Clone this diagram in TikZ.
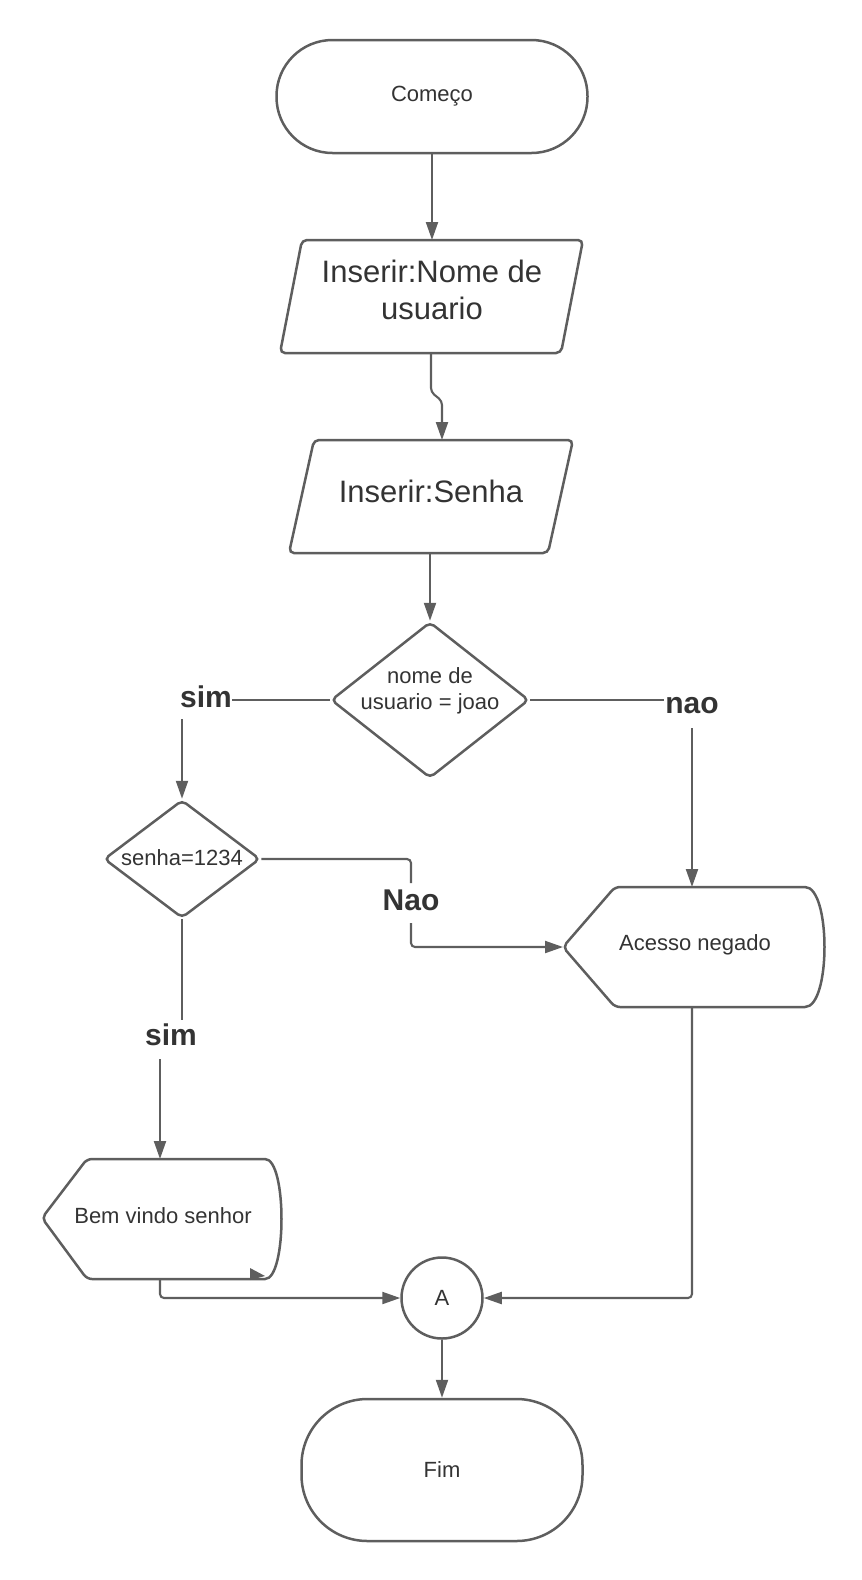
\documentclass[tikz,border=0pt]{standalone}
\usepackage{fontspec}
\setmainfont{Liberation Sans}
\usetikzlibrary{arrows.meta,shapes.geometric}
\definecolor{ln}{HTML}{5E5E5E}
\definecolor{tx}{HTML}{333333}
\begin{document}
\begin{tikzpicture}[x=1pt,y=-1pt,
  shp/.style={draw=ln, line width=2.5pt, rounded corners=5pt},
  con/.style={draw=ln, line width=2.1pt, rounded corners=4pt},
  arr/.style={con, -{Triangle[length=18pt,width=12pt]}},
  sm/.style={font=\fontsize{22}{26.4}\selectfont, text=tx, align=center, inner sep=0pt},
  big/.style={font=\fontsize{31}{37}\selectfont, text=tx, align=center, inner sep=0pt},
  lbl/.style={font=\fontsize{30}{36}\selectfont\bfseries, text=tx, inner sep=0pt}
]
\useasboundingbox (0,0) rectangle (862,1580);
% terminators
\node[shp, rounded corners=56pt, minimum width=311pt, minimum height=113pt, sm] (start) at (432,96.5) {Começo};
\node[shp, rounded corners=66pt, minimum width=281pt, minimum height=142pt, sm] (fim) at (442,1470) {Fim};
% parallelograms
\draw[shp] (302,240) -- (583,240) -- (561,353) -- (280,353) -- cycle;
\node[big] (in1) at (432,290) {Inserir:Nome de\\usuario};
\draw[shp] (314,440) -- (573,440) -- (548,553) -- (289,553) -- cycle;
\node[big] (in2) at (431,491) {Inserir:Senha};
% diamonds
\node[shp, diamond, minimum width=198pt, minimum height=156pt, inner sep=0pt] (d1) at (430,700) {};
\node[sm] (d1t) at (430,691) {nome de\\usuario = joao};
\node[shp, diamond, minimum width=156pt, minimum height=118pt, inner sep=0pt] (d2) at (182,859) {};
\node[sm] (d2t) at (182,858) {senha=1234};
% displays
\draw[shp] (563,947) -- (615,887) -- (800,887) .. controls (831,887) and (831,1007) .. (800,1007) -- (615,1007) -- cycle;
\node[sm] (acc) at (695,945) {Acesso negado};
\draw[shp] (42,1218) -- (87,1159) -- (260,1159) .. controls (287,1159) and (287,1279) .. (260,1279) -- (87,1279) -- cycle;
\node[sm] (bem) at (163,1216) {Bem vindo senhor};
\fill[ln] (250,1268) -- (265,1276) -- (250,1280) -- cycle;
% connector
\node[shp, circle, minimum size=81pt, inner sep=0pt, sm] (A) at (442,1298) {A};
% labels
\node[lbl] (sim1) at (206,697) {sim};
\node[lbl] (nao1) at (692,706) {nao};
\node[lbl] (nao2) at (411,900) {Nao};
\node[lbl] (sim2) at (171,1035) {sim};
% coordinates
\coordinate (p1top) at (432,240);
\coordinate (p1bot) at (431,353);
\coordinate (p2top) at (442,440);
\coordinate (p2bot) at (430,553);
\coordinate (s1b) at (182,719);
\coordinate (n1b) at (692,728);
\coordinate (acctop) at (692,887);
\coordinate (accl) at (563,947);
\coordinate (accbot) at (692,1007);
\coordinate (n2t) at (411,883);
\coordinate (n2b) at (411,923);
\coordinate (s2t) at (182,1020);
\coordinate (s2b) at (160,1059);
\coordinate (bemtop) at (160,1159);
\coordinate (bembot) at (160,1279);
% connectors
\draw[arr] (start.south) -- (start.south |- p1top);
\draw[arr] (p1bot) -- (431,392) -- (442,401) -- (p2top);
\draw[arr] (p2bot) -- (d1.north);
\draw[con] (d1.west) -- (d1.west -| sim1.east);
\draw[arr] (s1b) -- (d2.north);
\draw[con] (d1.east) -- (664,700);
\draw[arr] (n1b) -- (acctop);
\draw[con] (d2.east) -- (d2.east -| n2t) -- (n2t);
\draw[arr] (n2b) -- (n2b |- accl) -- (accl);
\draw[con] (d2.south) -- (s2t);
\draw[arr] (s2b) -- (bemtop);
\draw[arr] (bembot) -- (bembot |- A.west) -- (A.west);
\draw[arr] (accbot) -- (accbot |- A.east) -- (A.east);
\draw[arr] (A.south) -- (A.south |- fim.north);
\end{tikzpicture}
\end{document}
